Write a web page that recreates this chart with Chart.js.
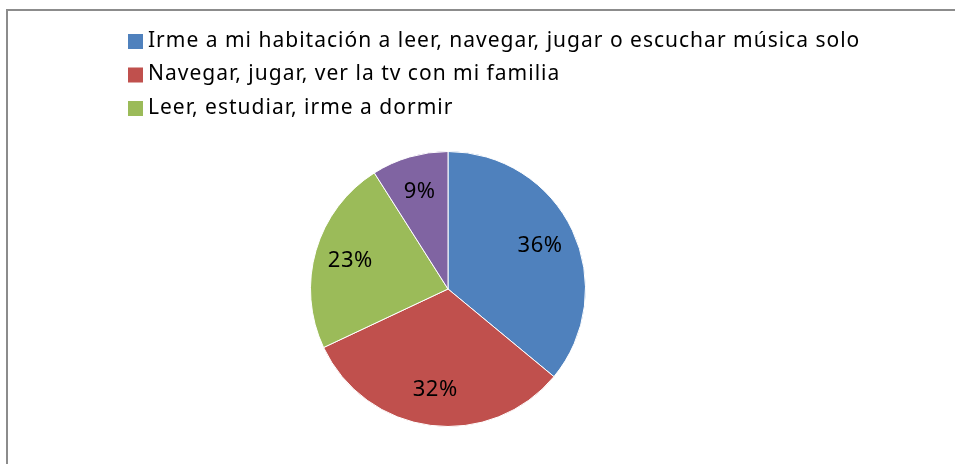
<!DOCTYPE html>
<html>
<head>
<meta charset="utf-8">
<script src="https://cdn.jsdelivr.net/npm/chart.js@4"></script>
<style>
  html, body { margin: 0; padding: 0; background: #fff; }
  #wrap { position: relative; width: 955px; height: 464px; overflow: hidden; }
  #frame { position: absolute; left: 6px; top: 9px; width: 1000px; height: 500px; border: 2px solid #8c8c8c; }
  canvas { position: absolute; left: 0; top: 0; }
</style>
</head>
<body>
<div id="wrap">
  <div id="frame"></div>
  <canvas id="myChart" width="955" height="464"></canvas>
</div>
<script>
// datos del gráfico
const categorias = [
  'Irme a mi habitación a leer, navegar, jugar o escuchar música solo',
  'Navegar, jugar, ver la tv con mi familia',
  'Leer, estudiar, irme a dormir',
  ''
];
const porcentajes = [36, 32, 23, 9];
const colores = ['#4F81BD', '#C0504D', '#9BBB59', '#8064A2'];
const enLeyenda = 3; // la cuarta entrada queda fuera del recuadro

const fuente = '"Noto Sans", "Open Sans", sans-serif';

// leyenda vertical dibujada a mano
const leyendaPlugin = {
  id: 'leyenda',
  afterDraw(chart) {
    const ctx = chart.ctx;
    ctx.save();
    ctx.font = '21px ' + fuente;
    ctx.letterSpacing = '1px';
    ctx.textBaseline = 'middle';
    for (let i = 0; i < enLeyenda; i++) {
      const y = 41 + i * 33.5;
      ctx.fillStyle = colores[i];
      ctx.fillRect(128, y - 7, 15, 15);
      ctx.fillStyle = '#000';
      ctx.fillText(chart.data.labels[i], 148, y);
    }
    ctx.restore();
  }
};

// etiquetas de porcentaje dentro de cada sector
const etiquetasPlugin = {
  id: 'etiquetas',
  afterDatasetsDraw(chart) {
    const ctx = chart.ctx;
    const meta = chart.getDatasetMeta(0);
    ctx.save();
    ctx.font = '22px ' + fuente;
    ctx.letterSpacing = '0.5px';
    ctx.fillStyle = '#000';
    ctx.textAlign = 'center';
    ctx.textBaseline = 'middle';
    meta.data.forEach((arc, i) => {
      const p = arc.getProps(['x', 'y', 'startAngle', 'endAngle', 'outerRadius'], true);
      const a = (p.startAngle + p.endAngle) / 2;
      const r = p.outerRadius * 0.74;
      ctx.fillText(porcentajes[i] + '%', p.x + Math.cos(a) * r, p.y + Math.sin(a) * r);
    });
    ctx.restore();
  }
};

const ctx = document.getElementById('myChart').getContext('2d');
new Chart(ctx, {
  type: 'pie',
  data: {
    labels: categorias,
    datasets: [{
      data: porcentajes,
      backgroundColor: colores,
      borderColor: '#ffffff',
      borderWidth: 1
    }]
  },
  options: {
    responsive: false,
    animation: false,
    layout: { padding: { top: 151, bottom: 37, left: 0, right: 59 } },
    plugins: {
      legend: { display: false },
      tooltip: { enabled: false }
    }
  },
  plugins: [leyendaPlugin, etiquetasPlugin]
});
</script>
</body>
</html>
